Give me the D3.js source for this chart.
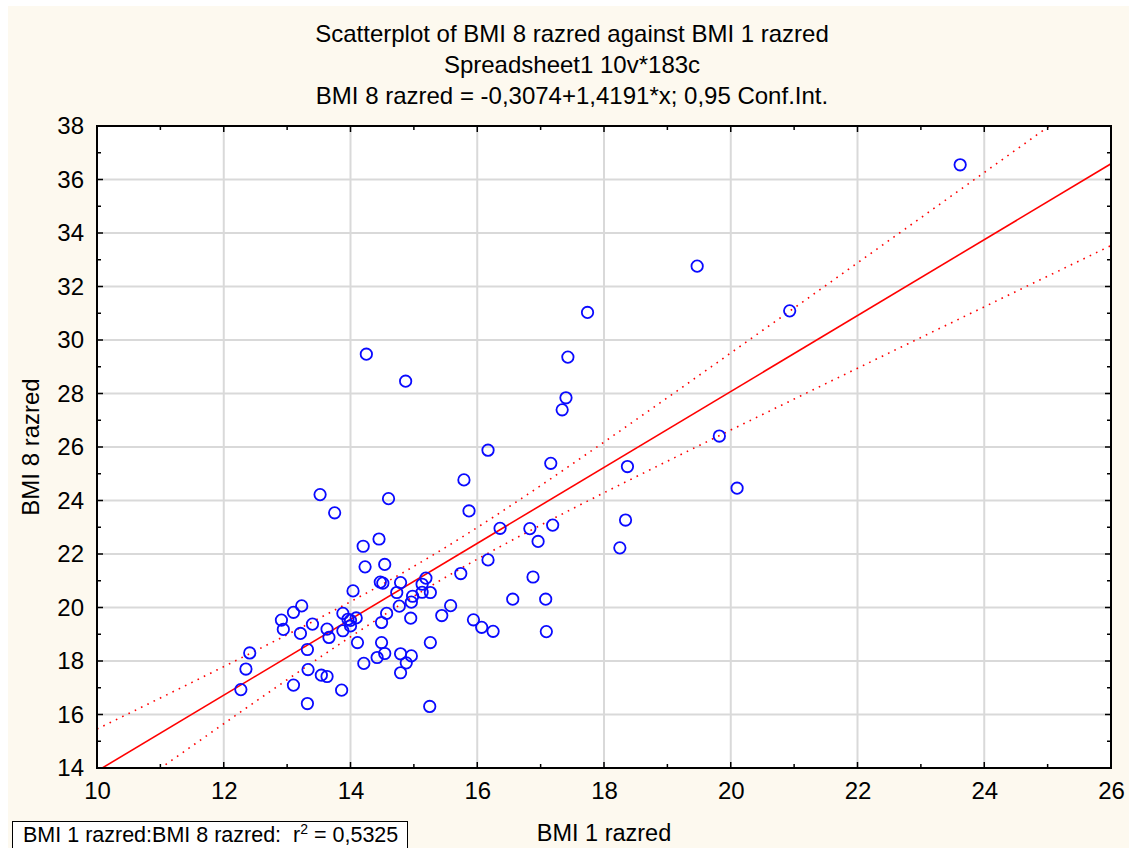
<!DOCTYPE html>
<html>
<head>
<meta charset="utf-8">
<script src="https://cdn.jsdelivr.net/npm/d3@7"></script>
<style>
  html, body { margin: 0; padding: 0; background: #ffffff; }
  svg { display: block; }
  text { font-family: "Liberation Sans", Arial, sans-serif; fill: #000; white-space: pre; }
</style>
</head>
<body>
<svg id="chart" width="1129" height="848"></svg>
<script>
// ---- data ----
const bmi1 = [12.27,12.35,12.41,12.91,12.94,13.10,13.10,13.23,13.21,13.32,13.32,13.33,13.40,13.54,13.63,13.63,13.66,13.52,13.75,13.86,
  13.88,13.88,13.96,14.00,14.00,14.04,14.09,14.11,14.20,14.21,14.23,14.25,14.42,14.45,14.47,14.51,14.49,14.49,14.54,14.54,
  14.57,14.60,14.73,14.77,14.79,14.79,14.79,14.87,14.88,14.95,14.96,14.96,14.98,15.13,15.13,15.19,15.26,15.26,15.25,15.44,
  15.58,15.74,15.79,15.87,15.94,16.07,16.17,16.17,16.25,16.36,16.56,16.83,16.88,16.96,17.08,17.09,17.16,17.19,17.34,17.40,
  17.43,17.74,18.25,18.34,18.37,19.47,19.82,20.10,20.93,23.62];
const bmi8 = [16.93,17.70,18.30,19.53,19.18,17.10,19.82,20.06,19.03,16.41,18.43,17.68,19.38,17.47,19.19,17.42,18.88,24.22,23.54,16.91,
  19.78,19.13,19.56,19.52,19.31,20.62,19.61,18.69,22.29,17.91,21.52,29.47,18.13,22.56,20.95,20.91,19.44,18.69,21.61,18.28,
  19.78,24.07,20.56,20.05,20.93,18.27,17.56,28.46,17.93,19.60,18.19,20.20,20.42,20.87,20.57,21.10,20.56,18.69,16.30,19.70,
  20.07,21.27,24.77,23.61,19.54,19.26,25.88,21.78,19.11,22.96,20.31,22.95,21.14,22.47,20.31,19.10,25.39,23.08,27.39,27.84,
  29.36,31.03,22.23,23.27,25.27,32.76,26.41,24.46,31.09,36.55];
const regression = [-0.3074, 1.4191];       // intercept, slope
const tCrit = 1.987;                          // t(0.975, df = n-2), 0,95 conf. int.
const xTicks = [10,12,14,16,18,20,22,24,26];
const yTicks = [14,16,18,20,22,24,26,28,30,32,34,36,38];
const titleLines = ["Scatterplot of BMI 8 razred against BMI 1 razred",
                    "Spreadsheet1 10v*183c",
                    "BMI 8 razred = -0,3074+1,4191*x; 0,95 Conf.Int."];
const xLabel = "BMI 1 razred";
const yLabel = "BMI 8 razred";
const r2Text = "0,5325";

// ---- layout ----
const W = 1129, H = 848;
const L = 97, R = 1111, T = 126, B = 768;
const svg = d3.select("#chart");

svg.append("rect").attr("x", 8).attr("y", 6).attr("width", W - 8).attr("height", H - 6).attr("fill", "#fdf9ef");

const x = d3.scaleLinear().domain([10, 26]).range([L, R]);
const y = d3.scaleLinear().domain([14, 38]).range([B, T]);

svg.append("rect").attr("x", L).attr("y", T).attr("width", R - L).attr("height", B - T).attr("fill", "#ffffff");

// grid
const grid = svg.append("g").attr("stroke", "#d9d9d9").attr("stroke-width", 2);
xTicks.slice(1, -1).forEach(v => grid.append("line").attr("x1", x(v)).attr("x2", x(v)).attr("y1", T).attr("y2", B));
yTicks.slice(1, -1).forEach(v => grid.append("line").attr("y1", y(v)).attr("y2", y(v)).attr("x1", L).attr("x2", R));

// clip
svg.append("clipPath").attr("id", "plotclip").append("rect").attr("x", L).attr("y", T).attr("width", R - L).attr("height", B - T);
const plot = svg.append("g").attr("clip-path", "url(#plotclip)");

// regression + confidence band
const n = bmi1.length;
const mx = d3.mean(bmi1);
const sxx = d3.sum(bmi1, v => (v - mx) * (v - mx));
const sse = d3.sum(bmi1, (v, i) => { const r = bmi8[i] - (regression[0] + regression[1] * v); return r * r; });
const s = Math.sqrt(sse / (n - 2));
const xs = d3.range(10, 26.001, 0.05);
const fit = v => regression[0] + regression[1] * v;
const half = v => tCrit * s * Math.sqrt(1 / n + (v - mx) * (v - mx) / sxx);
const line = d3.line().x(d => x(d[0])).y(d => y(d[1]));

plot.append("path").datum(xs.map(v => [v, fit(v) + half(v)])).attr("d", line)
  .attr("fill", "none").attr("stroke", "#ff0000").attr("stroke-width", 1.6).attr("stroke-dasharray", "1.6,5.4");
plot.append("path").datum(xs.map(v => [v, fit(v) - half(v)])).attr("d", line)
  .attr("fill", "none").attr("stroke", "#ff0000").attr("stroke-width", 1.6).attr("stroke-dasharray", "1.6,5.4");
plot.append("path").datum([[10, fit(10)], [26, fit(26)]]).attr("d", line)
  .attr("fill", "none").attr("stroke", "#ff0000").attr("stroke-width", 1.6);

// points
plot.append("g").selectAll("circle").data(bmi1.map((v, i) => [v, bmi8[i]])).join("circle")
  .attr("cx", d => x(d[0])).attr("cy", d => y(d[1])).attr("r", 5.7)
  .attr("fill", "none").attr("stroke", "#0a0aff").attr("stroke-width", 1.8);

// frame
svg.append("rect").attr("x", L).attr("y", T).attr("width", R - L).attr("height", B - T)
  .attr("fill", "none").attr("stroke", "#000").attr("stroke-width", 2);

// ticks (inside) on all four sides
const tk = svg.append("g").attr("stroke", "#000").attr("stroke-width", 1.5);
d3.range(10, 26.001, 1).forEach(v => {
  const len = (v % 2 === 0) ? 6 : 4;
  tk.append("line").attr("x1", x(v)).attr("x2", x(v)).attr("y1", B).attr("y2", B - len);
  tk.append("line").attr("x1", x(v)).attr("x2", x(v)).attr("y1", T).attr("y2", T + len);
});
d3.range(14, 38.001, 1).forEach(v => {
  const len = (v % 2 === 0) ? 6 : 4;
  tk.append("line").attr("y1", y(v)).attr("y2", y(v)).attr("x1", L).attr("x2", L + len);
  tk.append("line").attr("y1", y(v)).attr("y2", y(v)).attr("x1", R).attr("x2", R - len);
});

// tick labels via axes (lines hidden)
const xAxis = svg.append("g").attr("transform", `translate(0,${B})`)
  .call(d3.axisBottom(x).tickValues(xTicks).tickSize(0).tickPadding(14).tickFormat(d3.format("d")));
const yAxis = svg.append("g").attr("transform", `translate(${L},0)`)
  .call(d3.axisLeft(y).tickValues(yTicks).tickSize(0).tickPadding(13).tickFormat(d3.format("d")));
[xAxis, yAxis].forEach(a => {
  a.select(".domain").remove();
  a.selectAll("text").attr("font-size", 24).attr("font-family", "Liberation Sans, Arial, sans-serif").attr("fill", "#000");
});

// titles
titleLines.forEach((t, i) => {
  svg.append("text").attr("x", 572).attr("y", 42 + i * 31).attr("text-anchor", "middle")
    .attr("font-size", 24).text(t);
});

// axis labels
svg.append("text").attr("x", (L + R) / 2).attr("y", 841).attr("text-anchor", "middle").attr("font-size", 23.5).text(xLabel);
svg.append("text").attr("transform", "translate(39,447) rotate(-90)").attr("text-anchor", "middle")
  .attr("font-size", 24).text(yLabel);

// r2 box
svg.append("rect").attr("x", 12.5).attr("y", 821.5).attr("width", 395).attr("height", 40)
  .attr("fill", "#ffffff").attr("stroke", "#000").attr("stroke-width", 1);
const r2 = svg.append("text").attr("x", 23).attr("y", 842).attr("font-size", 21.5);
r2.append("tspan").text("BMI 1 razred:BMI 8 razred:  r");
r2.append("tspan").attr("dy", -8).attr("font-size", 14).text("2");
r2.append("tspan").attr("dy", 8).text(" = " + r2Text);
</script>
</body>
</html>
